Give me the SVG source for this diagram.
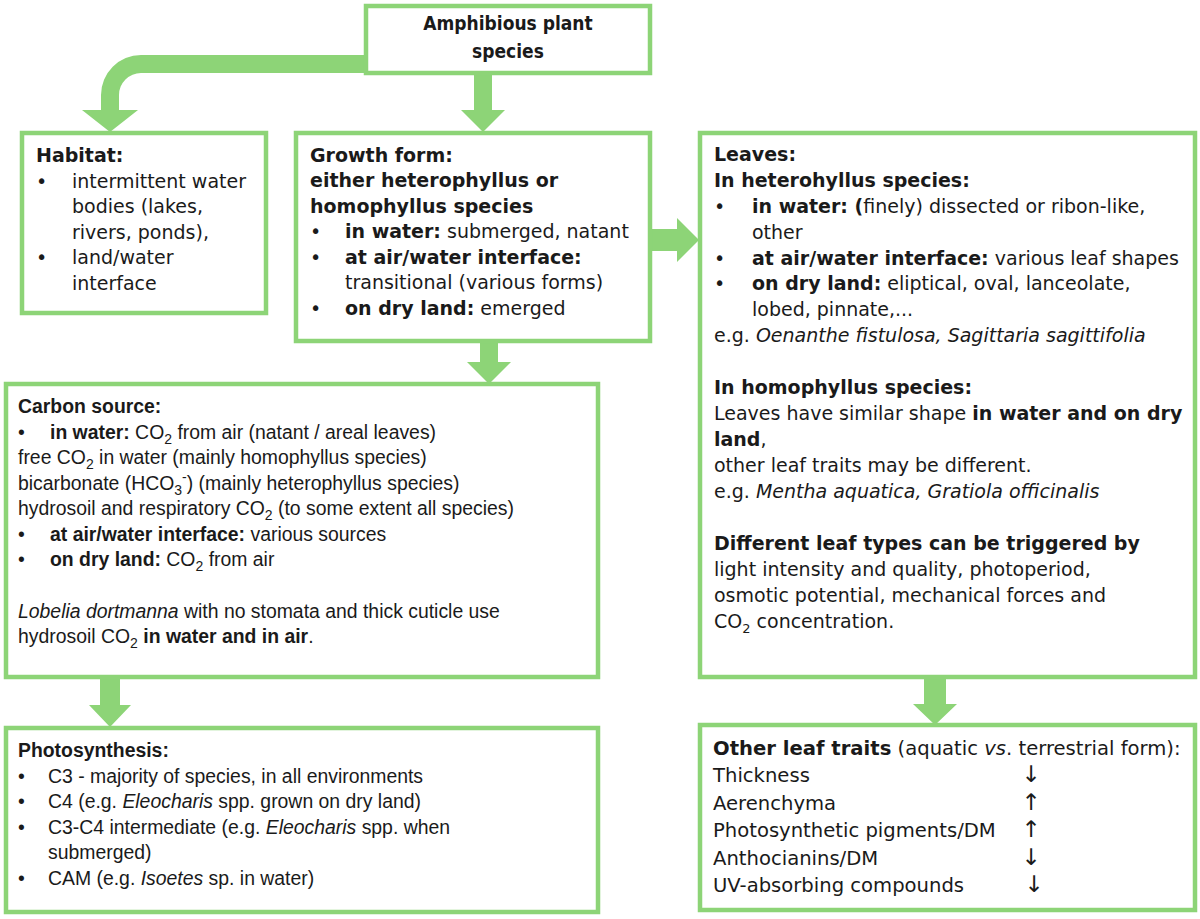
<svg xmlns="http://www.w3.org/2000/svg" width="1200" height="919" viewBox="0 0 1200 919">
<style>
.box{fill:#ffffff;stroke:#8dd477;stroke-width:4.5}
.arr{fill:#8dd477;stroke:none}
text{font-family:"Liberation Sans",Arial,sans-serif;font-size:19.4px;fill:#1a1a1a}
.g{font-family:"DejaVu Sans",sans-serif;font-size:19px}
.g2{font-family:"DejaVu Sans",sans-serif;font-size:19.6px}
.title{font-family:"DejaVu Sans Condensed","DejaVu Sans",sans-serif;font-stretch:condensed;font-weight:bold;font-size:19px}
.b{font-weight:bold}
.i{font-style:italic}
.sym{font-family:"DejaVu Sans",sans-serif;font-size:23px}
</style>
<rect width="1200" height="919" fill="#ffffff"/>
<g id="connectors">
<path class="arr" d="M366,55 L141,55 A40,40 0 0 0 101,95 L101,110 L82,110 L110,132 L138,110 L119,110 L119,95 A22,22 0 0 1 141,73 L366,73 Z"/>
<path class="arr" d="M474,73 L492,73 L492,110 L505,110 L483,132 L461,110 L474,110 Z"/>
<path class="arr" d="M480,341 L498,341 L498,362 L511,362 L489,384 L467,362 L480,362 Z"/>
<path class="arr" d="M924,677 L946,677 L946,704 L957,704 L935,725 L913,704 L924,704 Z"/>
<path class="arr" d="M100,677 L120,677 L120,705 L131,705 L110,727 L89,705 L100,705 Z"/>
<path class="arr" d="M650,229 L677,229 L677,218 L699,240 L677,262 L677,251 L650,251 Z"/>
</g>
<g id="top">
<rect class="box" x="366" y="6" width="284" height="67"/>
<text class="title" x="508" y="30" text-anchor="middle">Amphibious plant</text>
<text class="title" x="508" y="58" text-anchor="middle">species</text>
</g>
<g id="habitat">
<rect class="box" x="22" y="133" width="244" height="180"/>
<text class="g b" x="36" y="162">Habitat:</text>
<text class="g" x="36" y="188">•</text><text class="g" x="72" y="188">intermittent water</text>
<text class="g" x="72" y="213">bodies (lakes,</text>
<text class="g" x="72" y="239">rivers, ponds),</text>
<text class="g" x="36" y="264">•</text><text class="g" x="72" y="264">land/water</text>
<text class="g" x="72" y="290">interface</text>
</g>
<g id="growth">
<rect class="box" x="296" y="133" width="354" height="208"/>
<text class="g b" x="310" y="162">Growth form:</text>
<text class="g b" x="310" y="187">either heterophyllus or</text>
<text class="g b" x="310" y="213">homophyllus  species</text>
<text class="g" x="310" y="238">•</text><text class="g" x="345" y="238"><tspan class="b">in water:</tspan> submerged, natant</text>
<text class="g" x="310" y="264">•</text><text class="g b" x="345" y="264">at air/water interface:</text>
<text class="g" x="345" y="289">transitional (various forms)</text>
<text class="g" x="310" y="315">•</text><text class="g" x="345" y="315"><tspan class="b">on dry land:</tspan> emerged</text>
</g>
<g id="leaves">
<rect class="box" x="700" y="133" width="495" height="544"/>
<text class="g b" x="714" y="161">Leaves:</text>
<text class="g b" x="714" y="187">In heterohyllus  species:</text>
<text class="g" x="714" y="213">•</text><text class="g" x="752" y="213"><tspan class="b">in water: (</tspan>finely) dissected  or ribon-like,</text>
<text class="g" x="752" y="239">other</text>
<text class="g" x="714" y="265">•</text><text class="g" x="752" y="265"><tspan class="b">at air/water interface:</tspan> various leaf shapes</text>
<text class="g" x="714" y="290">•</text><text class="g" x="752" y="290"><tspan class="b">on dry land:</tspan> eliptical, oval, lanceolate,</text>
<text class="g" x="752" y="316">lobed, pinnate,...</text>
<text class="g" x="714" y="342">e.g. <tspan class="i">Oenanthe fistulosa, Sagittaria sagittifolia</tspan></text>
<text class="g b" x="714" y="394">In homophyllus  species:</text>
<text class="g" x="714" y="420">Leaves have similar shape <tspan class="b">in water and on dry</tspan></text>
<text class="g" x="714" y="446"><tspan class="b">land</tspan>,</text>
<text class="g" x="714" y="472">other leaf traits may be different.</text>
<text class="g" x="714" y="498">e.g. <tspan class="i">Mentha aquatica, Gratiola officinalis</tspan></text>
<text class="g b" x="714" y="550">Different leaf types can be triggered by</text>
<text class="g" x="714" y="576">light intensity and quality, photoperiod,</text>
<text class="g" x="714" y="602">osmotic potential, mechanical forces and</text>
<text class="g" x="714" y="628">CO<tspan font-size="13" dy="5">2</tspan><tspan dy="-5"> concentration.</tspan></text>
</g>
<g id="carbon">
<rect class="box" x="6" y="384" width="592" height="293"/>
<text x="18" y="413" class="b">Carbon source:</text>
<text x="18" y="439">•</text><text x="50" y="439"><tspan class="b">in water:</tspan> CO<tspan font-size="14" dy="5">2</tspan><tspan dy="-5"> from air (natant / areal leaves)</tspan></text>
<text x="18" y="464">free CO<tspan font-size="14" dy="5">2</tspan><tspan dy="-5"> in water (mainly homophyllus species)</tspan></text>
<text x="18" y="490">bicarbonate (HCO<tspan font-size="14" dy="5">3</tspan><tspan font-size="14" dy="-13">-</tspan><tspan dy="8">) (mainly heterophyllus species)</tspan></text>
<text x="18" y="515">hydrosoil and respiratory CO<tspan font-size="14" dy="5">2</tspan><tspan dy="-5"> (to some extent all species)</tspan></text>
<text x="18" y="541">•</text><text x="50" y="541"><tspan class="b">at air/water interface:</tspan> various sources</text>
<text x="18" y="566">•</text><text x="50" y="566"><tspan class="b">on dry land:</tspan> CO<tspan font-size="14" dy="5">2</tspan><tspan dy="-5"> from air</tspan></text>
<text x="18" y="618"><tspan class="i">Lobelia dortmanna</tspan> with no stomata and thick cuticle use</text>
<text x="18" y="643">hydrosoil CO<tspan font-size="14" dy="5">2</tspan><tspan dy="-5"> </tspan><tspan class="b">in water and in air</tspan>.</text>
</g>
<g id="photosynthesis">
<rect class="box" x="6" y="728" width="592" height="184"/>
<text x="18" y="757" class="b">Photosynthesis:</text>
<text x="18" y="783">•</text><text x="48" y="783">C3 - majority of species, in all environments</text>
<text x="18" y="808">•</text><text x="48" y="808">C4 (e.g. <tspan class="i">Eleocharis</tspan> spp. grown on dry land)</text>
<text x="18" y="834">•</text><text x="48" y="834">C3-C4 intermediate (e.g. <tspan class="i">Eleocharis</tspan> spp. when</text>
<text x="48" y="859">submerged)</text>
<text x="18" y="885">•</text><text x="48" y="885">CAM (e.g. <tspan class="i">Isoetes</tspan> sp. in water)</text>
</g>
<g id="other-traits">
<rect class="box" x="700" y="725" width="495" height="185"/>
<text class="g2" x="713" y="755"><tspan class="b">Other leaf traits</tspan> (aquatic <tspan class="i">vs</tspan>. terrestrial form):</text>
<text class="g2" x="713" y="782">Thickness</text><text class="sym" x="1031" y="782" text-anchor="middle">↓</text>
<text class="g2" x="713" y="810">Aerenchyma</text><text class="sym" x="1031" y="810" text-anchor="middle">↑</text>
<text class="g2" x="713" y="837">Photosynthetic pigments/DM</text><text class="sym" x="1031" y="837" text-anchor="middle">↑</text>
<text class="g2" x="713" y="865">Anthocianins/DM</text><text class="sym" x="1031" y="865" text-anchor="middle">↓</text>
<text class="g2" x="713" y="892">UV-absorbing compounds</text><text class="sym" x="1034" y="892" text-anchor="middle">↓</text>
</g>
</svg>
